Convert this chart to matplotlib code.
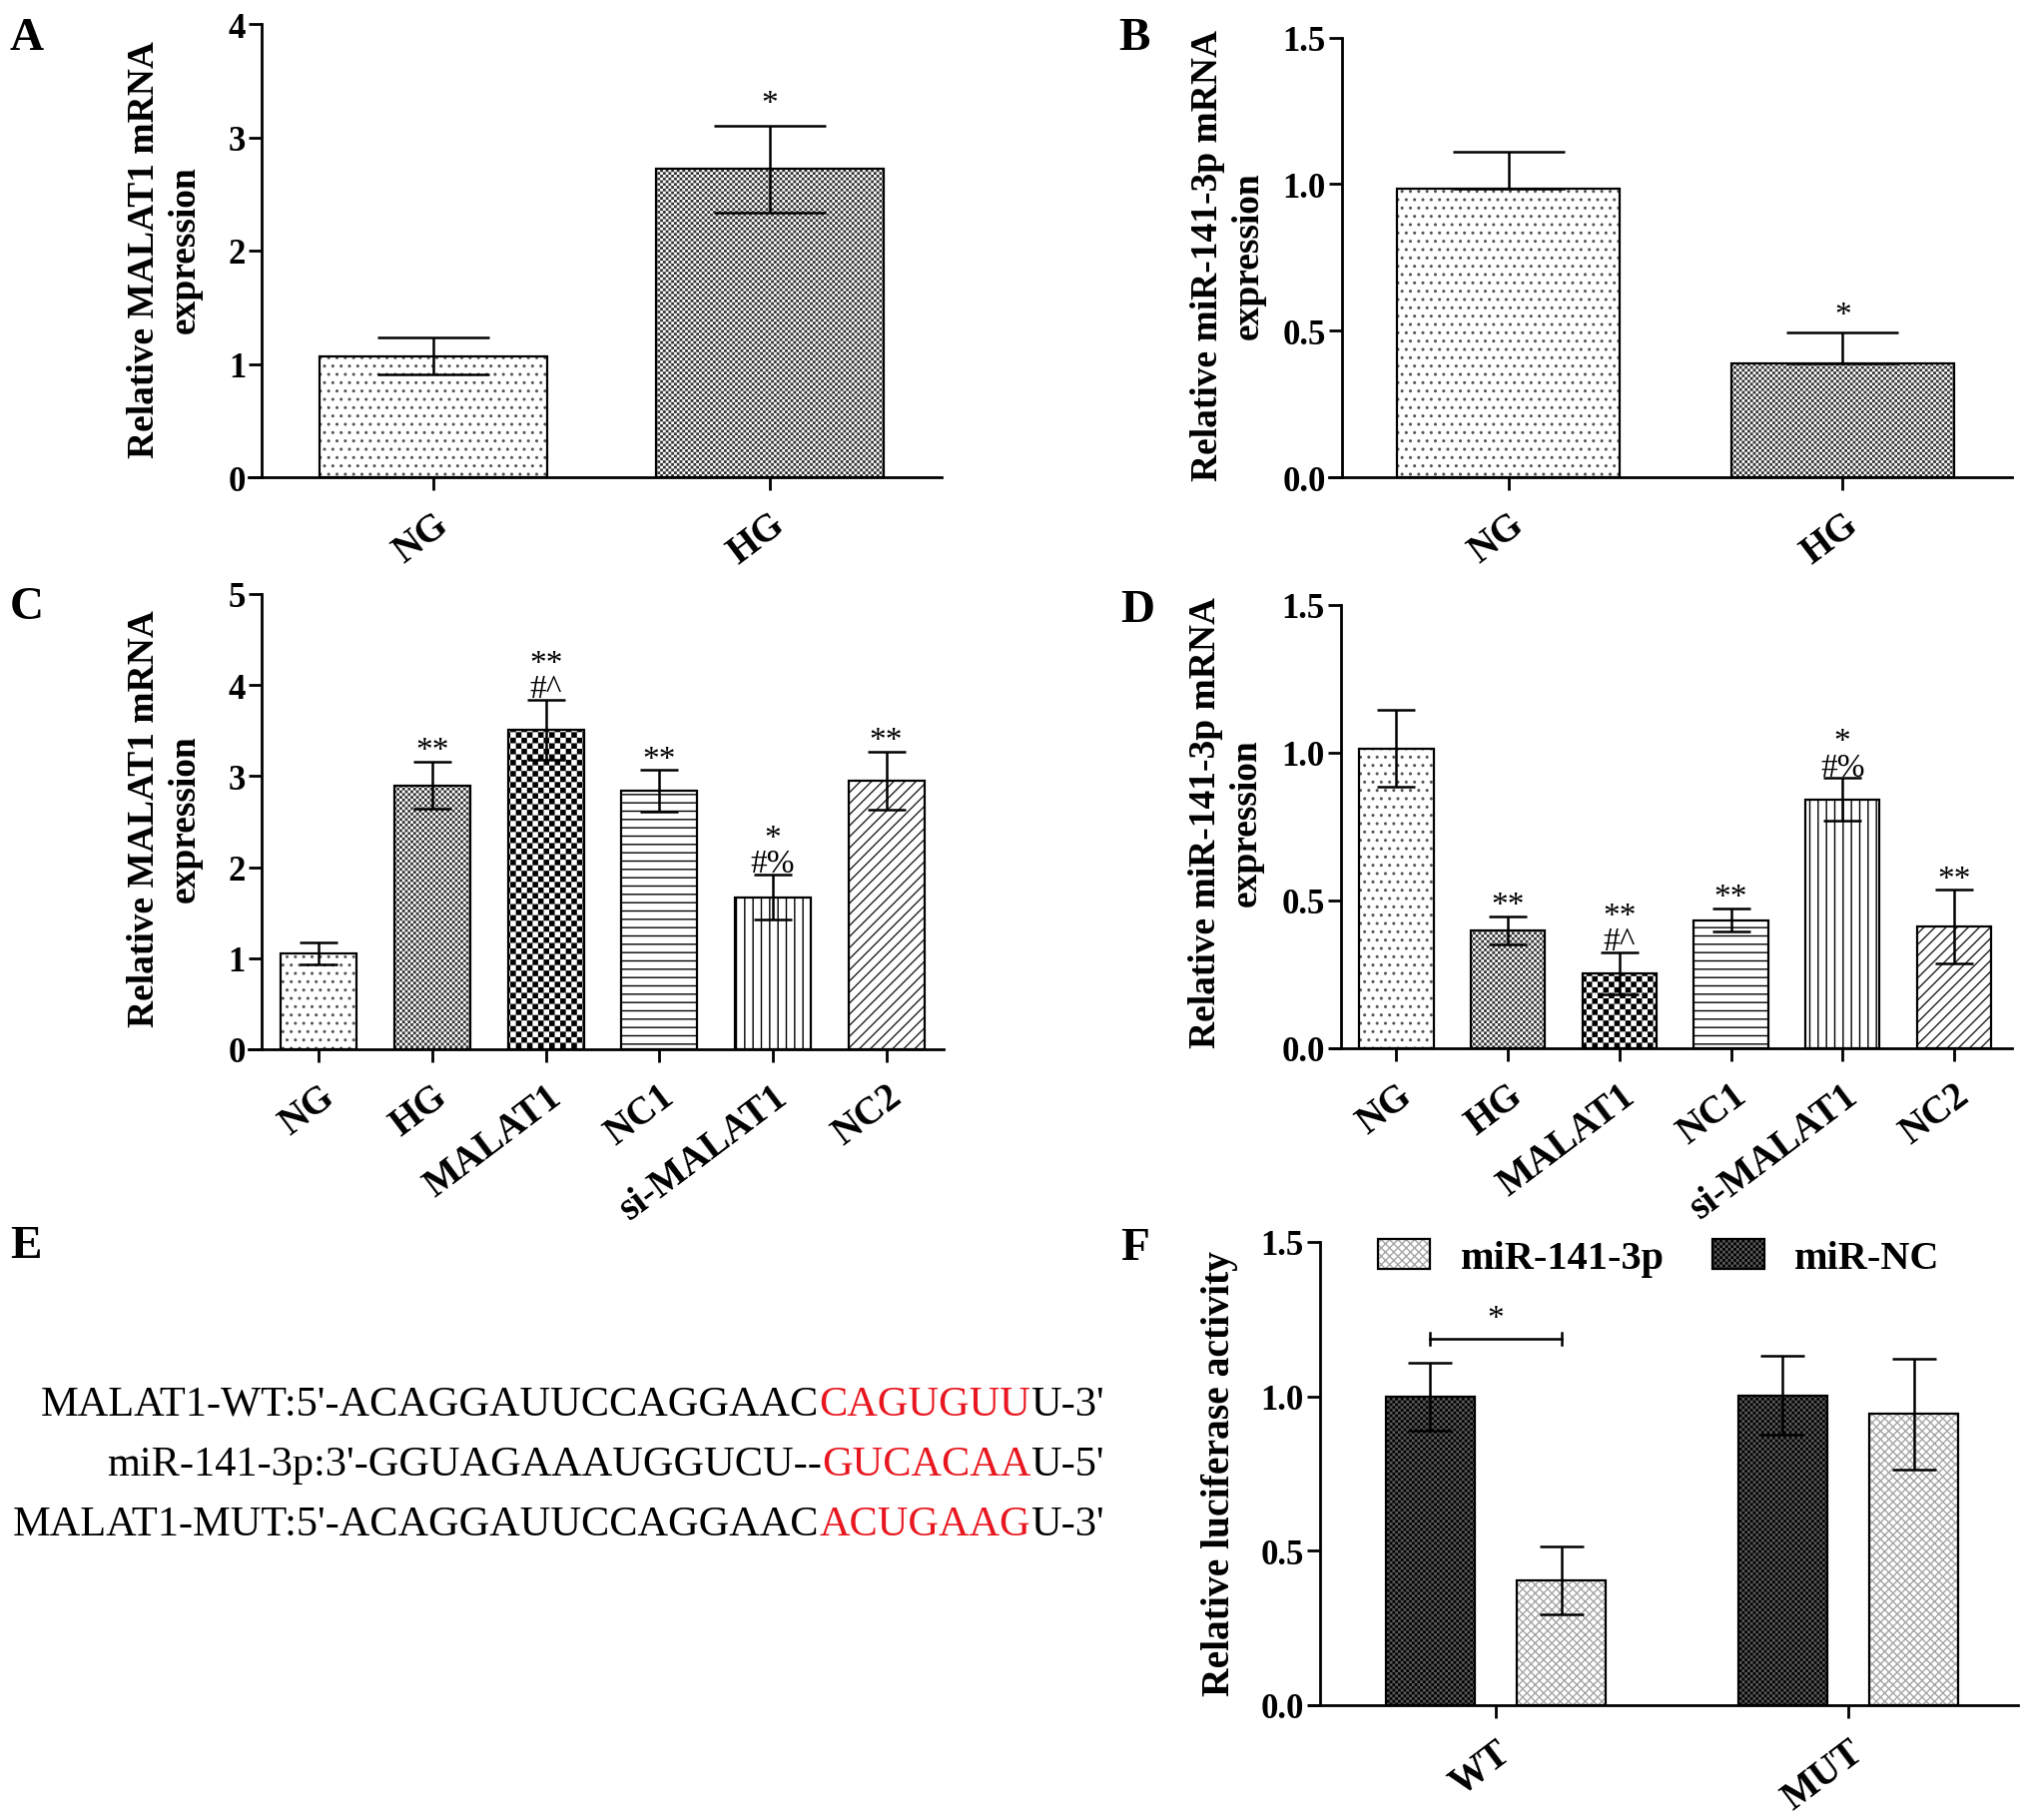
import numpy as np
import matplotlib
matplotlib.use('Agg')
import matplotlib.pyplot as plt
from matplotlib import hatch as mhatch
from matplotlib.path import Path
from matplotlib.legend_handler import HandlerTuple

# ---------------- data ----------------
groups_ab = ['NG', 'HG']
a_mean = [1.07, 2.72]
a_err = [0.165, 0.385]
a_marks = ['', '*']
b_mean = [0.983, 0.389]
b_err = [0.128, 0.106]
b_marks = ['', '*']

groups_cd = ['NG', 'HG', 'MALAT1', 'NC1', 'si-MALAT1', 'NC2']
c_mean = [1.055, 2.90, 3.51, 2.84, 1.67, 2.95]
c_err = [0.12, 0.26, 0.33, 0.225, 0.25, 0.32]
c_marks = ['', '**', '**\n#^', '**', '*\n#%', '**']
d_mean = [1.014, 0.399, 0.254, 0.434, 0.842, 0.411]
d_err = [0.13, 0.047, 0.07, 0.04, 0.072, 0.125]
d_marks = ['', '**', '**\n#^', '**', '*\n#%', '**']

f_groups = ['WT', 'MUT']
f_series = ['miR-141-3p', 'miR-NC']
f_mir141 = [0.405, 0.943]
f_mir141_err = [0.11, 0.18]
f_mirnc = [1.0, 1.003]
f_mirnc_err = [0.11, 0.128]
f_sig = '*'

seq_lines = [
    ["MALAT1-WT:5'-ACAGGAUUCCAGGAAC", "CAGUGUU", "U-3'"],
    ["miR-141-3p:3'-GGUAGAAAUGGUCU--", "GUCACAA", "U-5'"],
    ["MALAT1-MUT:5'-ACAGGAUUCCAGGAAC", "ACUGAAG", "U-3'"],
]

# ---------------- custom checkerboard hatch ('O') ----------------
HATCH_LW = 1.0
class CheckerHatch(mhatch.HatchPatternBase):
    inset = HATCH_LW * 100 / 72 / 2 / 100
    def __init__(self, hatch, density):
        n = int(hatch.count('O') * density)
        if n % 2:
            n += 1
        self.n = n
        self.num_vertices = (n * n // 2) * 5 if n else 0

    def set_vertices_and_codes(self, vertices, codes):
        n = self.n
        s = 1.0 / n
        d = min(self.inset, s * 0.3)
        sq = np.array([[d, d], [s - d, d], [s - d, s - d], [d, s - d], [d, d]])
        cd = [Path.MOVETO, Path.LINETO, Path.LINETO, Path.LINETO, Path.CLOSEPOLY]
        k = 0
        for i in range(n):
            for j in range(n):
                if (i + j) % 2 == 0:
                    vertices[5 * k:5 * k + 5] = sq + [i * s, j * s]
                    codes[5 * k:5 * k + 5] = cd
                    k += 1

mhatch._hatch_types = [t for t in mhatch._hatch_types if t is not mhatch.LargeCircles]
mhatch._hatch_types.append(CheckerHatch)

plt.rcParams['font.family'] = ['Liberation Serif', 'DejaVu Serif']
plt.rcParams['hatch.linewidth'] = HATCH_LW
plt.rcParams['axes.linewidth'] = 2.0

W, H = 2031, 1824
fig = plt.figure(figsize=(W / 100, H / 100), dpi=100)

def rect(x0, x1, ytop, ybot):
    return [x0 / W, 1 - ybot / H, (x1 - x0) / W, (ybot - ytop) / H]

# style per condition: (face, hatch, hatch colour)
STY = {
    'NG': ('white', '..', '#555555'),
    'HG': ('white', 'OOOOOO', '#333333'),
    'MALAT1': ('white', 'OOO', 'black'),
    'NC1': ('white', '--', 'black'),
    'si-MALAT1': ('white', '||', 'black'),
    'NC2': ('white', '///', '#222222'),
    'miR-NC': ('#5a5a5a', 'OOOOOO', 'black'),
    'miR-141-3p': ('white', 'xxxx', '#a5a5a5'),
}

TFS = 25
XFS = 28
def style_axes(ax, xlim, ylim, yticks, fmt, spine_x):
    ax.set_xlim(*xlim)
    ax.set_ylim(*ylim)
    ax.spines['top'].set_visible(False)
    ax.spines['right'].set_visible(False)
    ax.spines['left'].set_position(('data', spine_x))
    ax.spines['left'].set_bounds(ylim[0], ylim[1])
    ax.set_yticks(yticks)
    ax.set_yticklabels([fmt.format(v) for v in yticks], fontsize=TFS, fontweight='bold')
    ax.tick_params(axis='both', direction='out', length=9.5, width=2.0)
    ax.tick_params(axis='y', pad=2)
    ax.tick_params(axis='x', pad=11)

def set_xlabels(ax, pos, labels):
    ax.set_xticks(pos)
    ax.set_xticklabels(labels, rotation=37, ha='right', va='top',
                       rotation_mode='anchor', fontsize=XFS, fontweight='bold')

def bars(ax, x, h, w, key, lw=1.6):
    face, hatch, hc = STY[key]
    fill = ax.bar(x, h, w, color=face, hatch=hatch, edgecolor=hc, linewidth=0, zorder=2)
    edge = ax.bar(x, h, w, fill=False, edgecolor='black', linewidth=lw, zorder=2.5)
    return fill, edge

def errs(ax, x, m, e, cap, lower=True):
    e = np.asarray(e)
    yerr = [e if lower else np.zeros_like(e), e]
    ax.errorbar(x, m, yerr=yerr, fmt='none', ecolor='black', elinewidth=1.8,
                capsize=cap, capthick=1.8, zorder=4)

def marks(ax, x, tops, labels, off, fs=24):
    for xi, t, lab in zip(x, tops, labels):
        if lab:
            ax.annotate(lab, xy=(xi, t), xytext=(0, off), textcoords='offset points',
                        ha='center', va='bottom', fontsize=fs, linespacing=0.78, zorder=5)

def ylabel(ax, text, xc, yc, fs=27):
    ax.set_ylabel(text, fontsize=fs, fontweight='bold', linespacing=1.22,
                  ha='center', va='center', multialignment='center')
    ax.yaxis.set_label_coords(xc / W, 1 - yc / H, transform=fig.transFigure)

def letter(t, x, y):
    fig.text(x / W, 1 - y / H, t, fontsize=34, fontweight='bold', ha='left', va='top')

# ---------------- A ----------------
axA = fig.add_axes(rect(249, 943, 25, 479))
xa = np.arange(len(groups_ab))
for i, g in enumerate(groups_ab):
    bars(axA, xa[i], a_mean[i], 0.678, g)
errs(axA, xa, a_mean, a_err, 40)
marks(axA, xa, np.add(a_mean, a_err), a_marks, 5)
style_axes(axA, (-0.549, 1.510), (0, 4), [0, 1, 2, 3, 4], '{:.0f}', -0.51)
set_xlabels(axA, xa, groups_ab)
ylabel(axA, 'Relative MALAT1 mRNA\nexpression', 165, 250)
letter('A', 10, 18)

# ---------------- B ----------------
axB = fig.add_axes(rect(1331, 2015, 38.5, 479))
for i, g in enumerate(groups_ab):
    bars(axB, xa[i], b_mean[i], 0.667, g)
errs(axB, xa, b_mean, b_err, 40, lower=False)
marks(axB, xa, np.add(b_mean, b_err), b_marks, 1)
style_axes(axB, (-0.538, 1.507), (0, 1.5), [0, 0.5, 1.0, 1.5], '{:.1f}', -0.5)
set_xlabels(axB, xa, groups_ab)
ylabel(axB, 'Relative miR-141-3p mRNA\nexpression', 1230, 256)
letter('B', 1120, 18)

# ---------------- C ----------------
axC = fig.add_axes(rect(249, 945, 596, 1052))
xc = np.arange(len(groups_cd))
for i, g in enumerate(groups_cd):
    bars(axC, xc[i], c_mean[i], 0.669, g)
errs(axC, xc, c_mean, c_err, 13.7)
marks(axC, xc, np.add(c_mean, c_err), c_marks, -3)
style_axes(axC, (-0.62, 5.506), (0, 5), [0, 1, 2, 3, 4, 5], '{:.0f}', -0.506)
set_xlabels(axC, xc, groups_cd)
ylabel(axC, 'Relative MALAT1 mRNA\nexpression', 165, 820)
letter('C', 10, 588)

# ---------------- D ----------------
axD = fig.add_axes(rect(1332, 2015, 607, 1051))
for i, g in enumerate(groups_cd):
    bars(axD, xc[i], d_mean[i], 0.667, g)
errs(axD, xc, d_mean, d_err, 14)
marks(axD, xc, np.add(d_mean, d_err), d_marks, -3)
style_axes(axD, (-0.595, 5.52), (0, 1.5), [0, 0.5, 1.0, 1.5], '{:.1f}', -0.5)
set_xlabels(axD, xc, groups_cd)
ylabel(axD, 'Relative miR-141-3p mRNA\nexpression', 1228, 824)
letter('D', 1122, 591)

# ---------------- E ----------------
axE = fig.add_axes([0.0, 0.1, 0.55, 0.25])
axE.axis('off')
baselines = [1418, 1478, 1538]
EFS = 30.5
for parts, yb in zip(seq_lines, baselines):
    prev = axE.text(1106 / W, 1 - yb / H, parts[2], transform=fig.transFigure,
                    ha='right', va='baseline', fontsize=EFS, color='black')
    prev = axE.annotate(parts[1], xy=(0, 0), xycoords=prev, ha='right', va='bottom',
                        fontsize=EFS, color='#e8161e')
    axE.annotate(parts[0], xy=(0, 0), xycoords=prev, ha='right', va='bottom',
                 fontsize=EFS, color='black')
letter('E', 10, 1228)

# ---------------- F ----------------
axF = fig.add_axes(rect(1311, 2021, 1245, 1709))
xf = np.arange(len(f_groups))
off, bw = 0.186, 0.252
nc_fill, nc_edge = bars(axF, xf - off, f_mirnc, bw, 'miR-NC')
m1_fill, m1_edge = bars(axF, xf + off, f_mir141, bw, 'miR-141-3p')
errs(axF, xf - off, f_mirnc, f_mirnc_err, 16)
errs(axF, xf + off, f_mir141, f_mir141_err, 16)
style_axes(axF, (-0.53, 1.482), (0, 1.5), [0, 0.5, 1.0, 1.5], '{:.1f}', -0.5)
set_xlabels(axF, xf, f_groups)
ylabel(axF, 'Relative luciferase activity', 1222, 1476, fs=28.5)
# significance bracket between the two WT bars
sig_y, sig_h = 1.186, 0.02
bx = [xf[0] - off, xf[0] + off]
axF.plot(bx, [sig_y, sig_y], color='black', lw=1.8, zorder=4)
for xx in bx:
    axF.plot([xx, xx], [sig_y - sig_h, sig_y + sig_h], color='black', lw=1.8, zorder=4)
axF.text(np.mean(bx), sig_y + 0.015, f_sig, ha='center', va='bottom', fontsize=24)
leg = axF.legend([(m1_fill[0], m1_edge[0]), (nc_fill[0], nc_edge[0])], f_series,
                 handler_map={tuple: HandlerTuple(ndivide=1)}, ncol=2, frameon=False,
                 loc='center left', bbox_to_anchor=(0.097, 0.965), fontsize=29,
                 handlelength=1.3, handleheight=0.75, handletextpad=0.75,
                 columnspacing=1.2, borderaxespad=0, borderpad=0)
for t in leg.get_texts():
    t.set_fontweight('bold')
letter('F', 1122, 1230)

fig.savefig('out.png', dpi=100)
